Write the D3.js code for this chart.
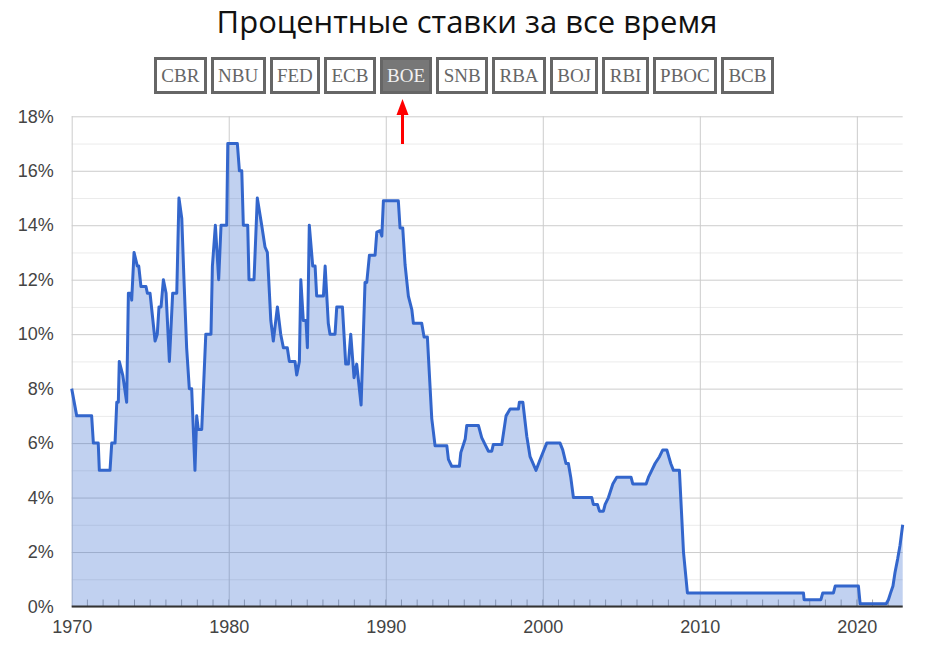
<!DOCTYPE html>
<html>
<head>
<meta charset="utf-8">
<script src="https://d3js.org/d3.v7.min.js"></script>
<style>
  body { margin: 0; background: #fff; }
  #wrap { position: relative; width: 934px; height: 652px; }
  #buttons { position: absolute; left: 154px; top: 57px; display: flex; gap: 4px; }
  #buttons span {
    display: block; box-sizing: border-box; height: 37px; line-height: 26px; padding: 5px 4.35px 0 4.35px;
    border: 3px solid #666;
    font: 19px "Liberation Serif", "Times New Roman", serif; color: #666; background: #fff;
  }
  #buttons span.active { background: #777; color: #f2f2f2; }
</style>
</head>
<body>
<div id="wrap"><div id="buttons"></div></div>
<script>
'use strict';

// bank names for the buttons
const banks = ["CBR", "NBU", "FED", "ECB", "BOE", "SNB", "RBA", "BOJ", "RBI", "PBOC", "BCB"];
const activeBank = "BOE";

// decimal years of each change point
const dates = [
  1970.00, 1970.32, 1971.27, 1971.38, 1971.69, 1971.76, 1972.44, 1972.55, 1972.76, 1972.87,
  1972.97, 1973.03, 1973.25, 1973.50, 1973.61, 1973.78, 1973.82, 1973.97, 1974.18, 1974.27,
  1974.41, 1974.73, 1974.82, 1974.99, 1975.31, 1975.45, 1975.56, 1975.69, 1975.84, 1976.01,
  1976.22, 1976.43, 1976.69, 1976.83, 1977.01, 1977.15, 1977.32, 1977.49, 1977.64, 1977.85,
  1977.96, 1978.06, 1978.28, 1978.54, 1978.87, 1978.96, 1979.15, 1979.36, 1979.51, 1979.87,
  1979.94, 1980.55, 1980.68, 1980.83, 1980.93, 1981.21, 1981.29, 1981.61, 1981.82, 1982.10,
  1982.31, 1982.46, 1982.68, 1982.84, 1983.10, 1983.31, 1983.48, 1983.73, 1983.86, 1984.22,
  1984.33, 1984.50, 1984.59, 1984.75, 1984.92, 1985.01, 1985.13, 1985.35, 1985.50, 1985.60,
  1986.03, 1986.14, 1986.34, 1986.45, 1986.77, 1986.88, 1987.24, 1987.34, 1987.45, 1987.62,
  1987.77, 1987.98, 1988.15, 1988.43, 1988.68, 1988.79, 1988.96, 1989.32, 1989.43, 1989.64,
  1989.75, 1989.85, 1990.80, 1990.91, 1991.08, 1991.23, 1991.44, 1991.66, 1991.76, 1992.29,
  1992.44, 1992.65, 1992.93, 1993.14, 1993.89, 1993.99, 1994.20, 1994.69, 1994.78, 1995.06,
  1995.16, 1995.90, 1996.11, 1996.32, 1996.54, 1996.75, 1996.85, 1997.39, 1997.66, 1997.92,
  1998.45, 1998.51, 1998.73, 1998.98, 1999.19, 1999.57, 1999.83, 2000.25, 2001.10, 2001.27,
  2001.48, 2001.63, 2001.78, 2001.95, 2003.12, 2003.22, 2003.48, 2003.61, 2003.86, 2003.97,
  2004.18, 2004.46, 2004.71, 2005.62, 2005.73, 2006.58, 2006.73, 2006.94, 2007.15, 2007.43,
  2007.64, 2007.90, 2008.15, 2008.32, 2008.70, 2008.96, 2009.21, 2016.60, 2016.64, 2017.71,
  2017.83, 2018.51, 2018.62, 2020.10, 2020.21, 2021.87, 2022.01, 2022.15, 2022.30, 2022.43,
  2022.60, 2022.75, 2022.92
];

// rate in percent at each change point
const rates = [
  8, 7, 7, 6, 6, 5, 5, 6, 6, 7.5,
  7.5, 9, 8.5, 7.5, 11.5, 11.5, 11.25, 13, 12.5, 12.5,
  11.75, 11.75, 11.5, 11.5, 9.75, 10, 11, 11, 12, 11.5,
  9, 11.5, 11.5, 15, 14.25, 12, 9.5, 8, 8, 5,
  7, 6.5, 6.5, 10, 10, 12.5, 14, 12, 14, 14,
  17, 17, 16, 16, 14, 14, 12, 12, 15, 14,
  13.2, 13, 10.5, 9.75, 11, 10, 9.5, 9.5, 9, 9,
  8.5, 9, 12, 10.5, 10.5, 9.5, 14, 12.5, 12.5, 11.4,
  11.4, 12.5, 10.4, 10, 10, 11, 11, 10, 8.9, 8.9,
  10, 8.4, 8.9, 7.4, 11.9, 11.9, 12.9, 12.9, 13.75, 13.8,
  13.6, 14.9, 14.9, 13.9, 13.9, 12.55, 11.4, 10.9, 10.4, 10.4,
  9.9, 9.9, 6.9, 5.9, 5.9, 5.4, 5.15, 5.15, 5.65, 6.15,
  6.65, 6.65, 6.2, 5.95, 5.7, 5.7, 5.95, 5.95, 7, 7.25,
  7.25, 7.5, 7.5, 6.25, 5.5, 5, 5.4, 6, 6, 5.75,
  5.25, 5.25, 4.75, 4, 4, 3.75, 3.75, 3.5, 3.5, 3.75,
  4, 4.5, 4.75, 4.75, 4.5, 4.5, 4.75, 5, 5.25, 5.5,
  5.75, 5.75, 5.25, 5, 5, 2, 0.5, 0.5, 0.25, 0.25,
  0.5, 0.5, 0.75, 0.75, 0.1, 0.1, 0.25, 0.5, 0.75, 1.25,
  1.75, 2.25, 3
];

// axis ticks
const yTicks = [0, 2, 4, 6, 8, 10, 12, 14, 16, 18];
const yMinorTicks = [1, 3, 5, 7, 9, 11, 13, 15, 17];
const xTicks = [1970, 1980, 1990, 2000, 2010, 2020];

(function() {

  // buttons row above the chart
  d3.select('#buttons').selectAll('span')
    .data(banks).enter()
    .append('span')
      .classed('active', d => d == activeBank)
      .text(d => d);

  let svg = d3.select('#wrap').insert('svg', '#buttons')
    .attr('width', 934)
    .attr('height', 652)
    .style('position', 'absolute')
    .style('left', 0)
    .style('top', 0);

  // title
  svg.append('text')
    .attr('x', 467)
    .attr('y', 33)
    .attr('text-anchor', 'middle')
    .style('font-family', '"Open Sans", "Noto Sans", sans-serif')
    .style('font-size', '31px')
    .style('fill', '#111')
    .text('Процентные ставки за все время');

  let xScale = d3.scaleLinear()
    .domain([1970, dates[dates.length - 1]])
    .range([71.7, 902.7]);

  let yScale = d3.scaleLinear()
    .domain([0, 18])
    .range([606.5, 116.3]);

  let plotW = xScale.range()[1] - xScale.range()[0];
  let plotH = yScale.range()[0] - yScale.range()[1];

  let labelStyle = g => g.selectAll('text')
    .style('font-family', '"Liberation Sans", Arial, sans-serif')
    .style('font-size', '18px')
    .attr('fill', '#444');

  // minor horizontal grid
  svg.append('g')
    .attr('transform', 'translate(' + xScale.range()[0] + ',0)')
    .call(d3.axisLeft(yScale).tickValues(yMinorTicks).tickSize(-plotW).tickFormat(''))
    .call(g => g.select('.domain').remove())
    .call(g => g.selectAll('line').attr('stroke', '#ebebeb'));

  // major horizontal grid with labels
  svg.append('g')
    .attr('transform', 'translate(' + xScale.range()[0] + ',0)')
    .call(d3.axisLeft(yScale).tickValues(yTicks).tickSize(-plotW).tickPadding(18).tickFormat(d => d + '%'))
    .call(g => g.select('.domain').remove())
    .call(g => g.selectAll('line').attr('stroke', '#cccccc'))
    .call(labelStyle);

  // vertical grid every decade
  svg.append('g')
    .attr('transform', 'translate(0,' + yScale.range()[0] + ')')
    .call(d3.axisBottom(xScale).tickValues(xTicks).tickSize(-plotH).tickPadding(14).tickFormat(d3.format('d')))
    .call(g => g.select('.domain').remove())
    .call(g => g.selectAll('line').attr('stroke', '#cccccc'))
    .call(labelStyle);

  // yearly minor ticks along the bottom
  let years = d3.range(1971, 2023);
  svg.append('g')
    .selectAll('line')
    .data(years).enter()
    .append('line')
      .attr('x1', d => xScale(d))
      .attr('x2', d => xScale(d))
      .attr('y1', yScale(0))
      .attr('y2', yScale(0) - 7)
      .attr('stroke', '#aaaaaa');

  let series = dates.map((d, i) => ({ date: d, rate: rates[i] }));

  let area = d3.area()
    .x(d => xScale(d.date))
    .y0(yScale(0))
    .y1(d => yScale(d.rate));

  let line = d3.line()
    .x(d => xScale(d.date))
    .y(d => yScale(d.rate));

  svg.append('path')
    .datum(series)
    .attr('fill', '#3366cc')
    .attr('fill-opacity', 0.3)
    .attr('d', area);

  svg.append('path')
    .datum(series)
    .attr('fill', 'none')
    .attr('stroke', '#3366cc')
    .attr('stroke-width', 3)
    .attr('stroke-linejoin', 'round')
    .attr('d', line);

  // baseline
  svg.append('line')
    .attr('x1', xScale.range()[0])
    .attr('x2', xScale.range()[1])
    .attr('y1', yScale(0))
    .attr('y2', yScale(0))
    .attr('stroke', '#333')
    .attr('stroke-width', 2);

  // red arrow pointing at the active button
  let ax = 402.5;
  svg.append('line')
    .attr('x1', ax).attr('x2', ax)
    .attr('y1', 144).attr('y2', 112)
    .attr('stroke', 'red')
    .attr('stroke-width', 3);
  svg.append('path')
    .attr('d', 'M' + (ax - 6) + ',115 L' + ax + ',99 L' + (ax + 6) + ',115 Z')
    .attr('fill', 'red');

})();
</script>
</body>
</html>
